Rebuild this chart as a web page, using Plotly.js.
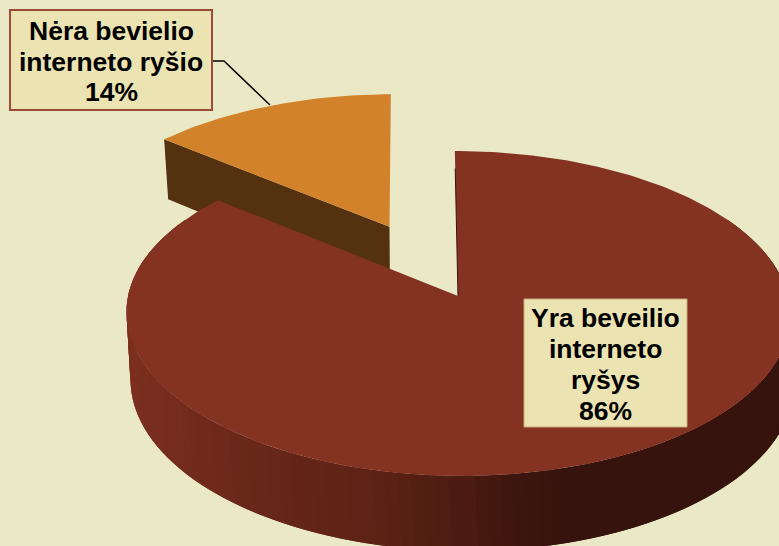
<!DOCTYPE html>
<html>
<head>
<meta charset="utf-8">
<script src="https://cdn.plot.ly/plotly-3.0.1.min.js"></script>
<style>
  html, body { margin: 0; padding: 0; }
  body {
    background-color: #ebe8c6;
    background-image: radial-gradient(circle at center, #e3e6c9 0, #e6e8ca 1.4px, rgba(235,232,198,0) 2.4px);
    background-size: 21px 17px;
    background-position: -6px 4px;
  }
  #chart { width: 779px; height: 546px; }
</style>
</head>
<body>
<div id="chart"></div>
<script>
// Survey shares, in percent
const categories = ["Yra beveilio interneto ryšys", "Nėra bevielio interneto ryšio"];
const shares = [86, 14];
const labelLines = [
  ["Yra beveilio", "interneto", "ryšys", "86%"],
  ["Nėra bevielio", "interneto ryšio", "14%"]
];

// Palette
const faceColors = ["#843323", "#d2822a"];
const cutWallColor = "#54310f";
const labelFill = "#ebe3b1";
const labelBorder = "#9c4a38";
const rimShades = [[130, [124, 47, 31]], [200, [112, 42, 27]], [280, [101, 38, 24]],
                   [380, [92, 34, 21]], [450, [77, 28, 17]], [510, [62, 22, 14]], [560, [54, 19, 12]]];

// Oblique perspective used for the disc
const view = { cx: 458, cy: 296, rx: 330, ry: 160.6, skew: -3.5, persp: 0.1077, drop: 67, slide: 4 };
const explode = 0.5;

// Projects a point of the unit disc; level 1 is the underside of the disc
function project(u, v, level) {
  const w = 1 + view.persp * v;
  return {
    x: view.cx + (view.rx * u + view.skew * v) / w + (level ? view.slide : 0),
    y: view.cy - view.ry * v / w + (level ? view.drop / w : 0)
  };
}

// Rim point at a clockwise angle measured from the back of the disc
function rim(deg, offU, offV, level) {
  const a = deg * Math.PI / 180;
  return project(Math.sin(a) + offU, Math.cos(a) + offV, level);
}

function polygon(points, color) {
  return {
    type: "scatter", mode: "lines", fill: "toself", fillcolor: color,
    x: points.map(p => p.x), y: points.map(p => p.y),
    line: { color: color, width: 0 },
    hoverinfo: "skip", showlegend: false
  };
}

function shadeAt(x) {
  const s = rimShades;
  if (x <= s[0][0]) return `rgb(${s[0][1].join(",")})`;
  for (let i = 1; i < s.length; i++) {
    if (x <= s[i][0]) {
      const t = (x - s[i - 1][0]) / (s[i][0] - s[i - 1][0]);
      const c = s[i][1].map((val, j) => Math.round(s[i - 1][1][j] + (val - s[i - 1][1][j]) * t));
      return `rgb(${c.join(",")})`;
    }
  }
  return `rgb(${s[s.length - 1][1].join(",")})`;
}

const total = shares[0] + shares[1];
const mainEnd = 360 * shares[0] / total;
const midAngle = (mainEnd + 360) / 2 * Math.PI / 180;
const offU = explode * Math.sin(midAngle);
const offV = explode * Math.cos(midAngle);
const traces = [];

// Detached slice: wall along its cut, kept upright at the apex, then its top
const smallApex = project(offU, offV, 0);
const smallApexLow = project(offU, offV, 1);
smallApexLow.x = smallApex.x + 0.5;
traces.push(polygon([
  rim(mainEnd, offU, offV, 0), smallApex, smallApexLow, rim(mainEnd, offU, offV, 1)
], cutWallColor));
const smallFace = [smallApex];
for (let d = mainEnd; d <= 360.001; d += 1) smallFace.push(rim(d, offU, offV, 0));
traces.push(polygon(smallFace, faceColors[1]));

// Main slice: banded outer wall, each band overlapping the next to hide seams,
// painted from both ends toward the front
const bandStep = 2;
const bandStarts = [];
for (let d = 60; d < 180; d += bandStep) bandStarts.push(d);
for (let d = 298; d >= 180; d -= bandStep) bandStarts.push(d);
bandStarts.forEach(d => {
  const from = d < 180 ? d : d - bandStep;
  const to = d < 180 ? d + 2 * bandStep : d + bandStep;
  const a = rim(from, 0, 0, 0), b = rim(to, 0, 0, 0);
  const c = rim(to, 0, 0, 1), e = rim(from, 0, 0, 1);
  const mid = rim(d + bandStep / 2, 0, 0, 0);
  traces.push(polygon([a, b, c, e], shadeAt(mid.x)));
});

const mainApex = project(0, 0, 0);
const mainFace = [mainApex];
for (let d = 0; d <= mainEnd + 0.001; d += 1) mainFace.push(rim(d, 0, 0, 0));
mainFace.push(rim(mainEnd, 0, 0, 0));
traces.push(polygon(mainFace, faceColors[0]));

// Thin dark sliver of the inner wall beside the vertical cut
const cutTop = rim(0, 0, 0, 0);
traces.push({
  type: "scatter", mode: "lines",
  x: [cutTop.x + 0.12 * (mainApex.x - cutTop.x), mainApex.x],
  y: [cutTop.y + 0.12 * (mainApex.y - cutTop.y), mainApex.y],
  line: { color: "#3a130b", width: 1 }, hoverinfo: "skip", showlegend: false
});

// Label boxes and leader line
const shapes = [
  { type: "rect", xref: "x", yref: "y", x0: 10, x1: 212, y0: 10, y1: 110,
    fillcolor: labelFill, line: { color: labelBorder, width: 2 }, layer: "above" },
  { type: "rect", xref: "x", yref: "y", x0: 524, x1: 687, y0: 299, y1: 427,
    fillcolor: labelFill, line: { color: "#c9a877", width: 1 }, layer: "above" },
  { type: "path", xref: "x", yref: "y", path: "M 213 61 L 224 61 L 270 105",
    line: { color: "#000000", width: 1.5 }, layer: "above" }
];

function lineNotes(lines, x, firstY, pitch) {
  return lines.map((text, i) => ({
    text: text, x: x, y: firstY + i * pitch, xref: "x", yref: "y",
    xanchor: "center", yanchor: "middle", showarrow: false,
    font: { family: "Liberation Sans, Arial, sans-serif", size: 26.5, color: "#000000", weight: 700 }
  }));
}

const layout = {
  width: 779, height: 546,
  margin: { l: 0, r: 0, t: 0, b: 0 },
  paper_bgcolor: "rgba(0,0,0,0)", plot_bgcolor: "rgba(0,0,0,0)",
  showlegend: false,
  xaxis: { range: [0, 779], visible: false, fixedrange: true },
  yaxis: { range: [546, 0], visible: false, fixedrange: true },
  shapes: shapes,
  annotations: lineNotes(labelLines[0], 605.5, 318, 31).concat(lineNotes(labelLines[1], 111, 31, 30.5))
};

Plotly.newPlot("chart", traces, layout, { displayModeBar: false, staticPlot: true });
</script>
</body>
</html>
